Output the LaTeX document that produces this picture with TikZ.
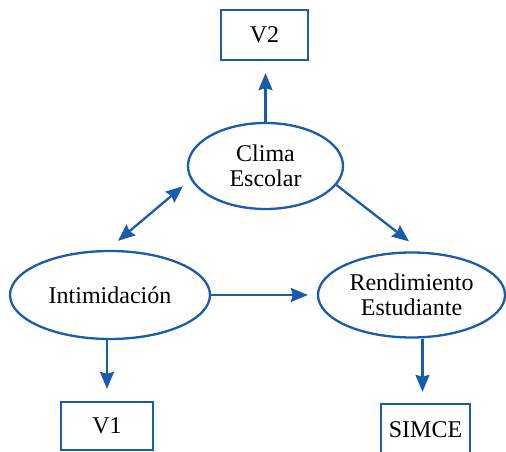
\documentclass[tikz,border=0pt]{standalone}
\usepackage{fontspec}
\setmainfont{Liberation Serif}
\usepackage{tikz}
\usetikzlibrary{calc, positioning, shapes, arrows.meta}

\definecolor{lineblue}{RGB}{24,92,172}

\begin{document}
\begin{tikzpicture}[x = 1pt, y = 1pt, font = \fontsize{24}{24.5}\selectfont]

\tikzstyle{arrow} = [draw=lineblue, line width=2.3pt, -{Stealth[length=17pt, width=14pt, inset=2pt]}];
\tikzstyle{darrow} = [arrow, {Stealth[length=17pt, width=14pt, inset=2pt]}-{Stealth[length=17pt, width=14pt, inset=2pt]}];
\tikzstyle{latent} = [draw=lineblue, line width=2.3pt, ellipse, inner sep=0pt, align=center];
\tikzstyle{indic} = [draw=lineblue, line width=2.3pt, rectangle, inner sep=0pt];

\useasboundingbox (0,0) rectangle (506,452);

\node(V2) [indic, minimum width=87, minimum height=50] at (264.5,417) {V2};

\node(clima) [latent, minimum width=155, minimum height=86] at (265.5,286) {Clima\\Escolar};

\node(intim) [latent, minimum width=200, minimum height=88] at (110,157) {Intimidación};
\node(rend) [latent, minimum width=187, minimum height=85] at (411.5,157) {Rendimiento\\Estudiante};

\node(V1) [indic, minimum width=92, minimum height=48] at (107,26) {V1};
\node(simce) [indic, minimum width=89, minimum height=52] at (425.5,22) {SIMCE};

\draw [arrow, shorten >=12pt] (clima.north) -- (clima.north |- V2.south);

\draw [darrow] ([shift={(8,9)}]intim.north) -- ([shift={(-27,11)}]clima.south west);

\draw [arrow] (clima.-15) -- ([shift={(-2.5,10)}]rend.north);

\draw [arrow, shorten >=9pt] (intim.east) -- (rend.west);

\draw [arrow, shorten >=12pt] (intim.south -| V1.north) -- (V1.north);
\draw [arrow, shorten >=11pt] ([xshift=11pt]rend.south) -- ([xshift=11pt]rend.south |- simce.north);

\end{tikzpicture}
\end{document}
